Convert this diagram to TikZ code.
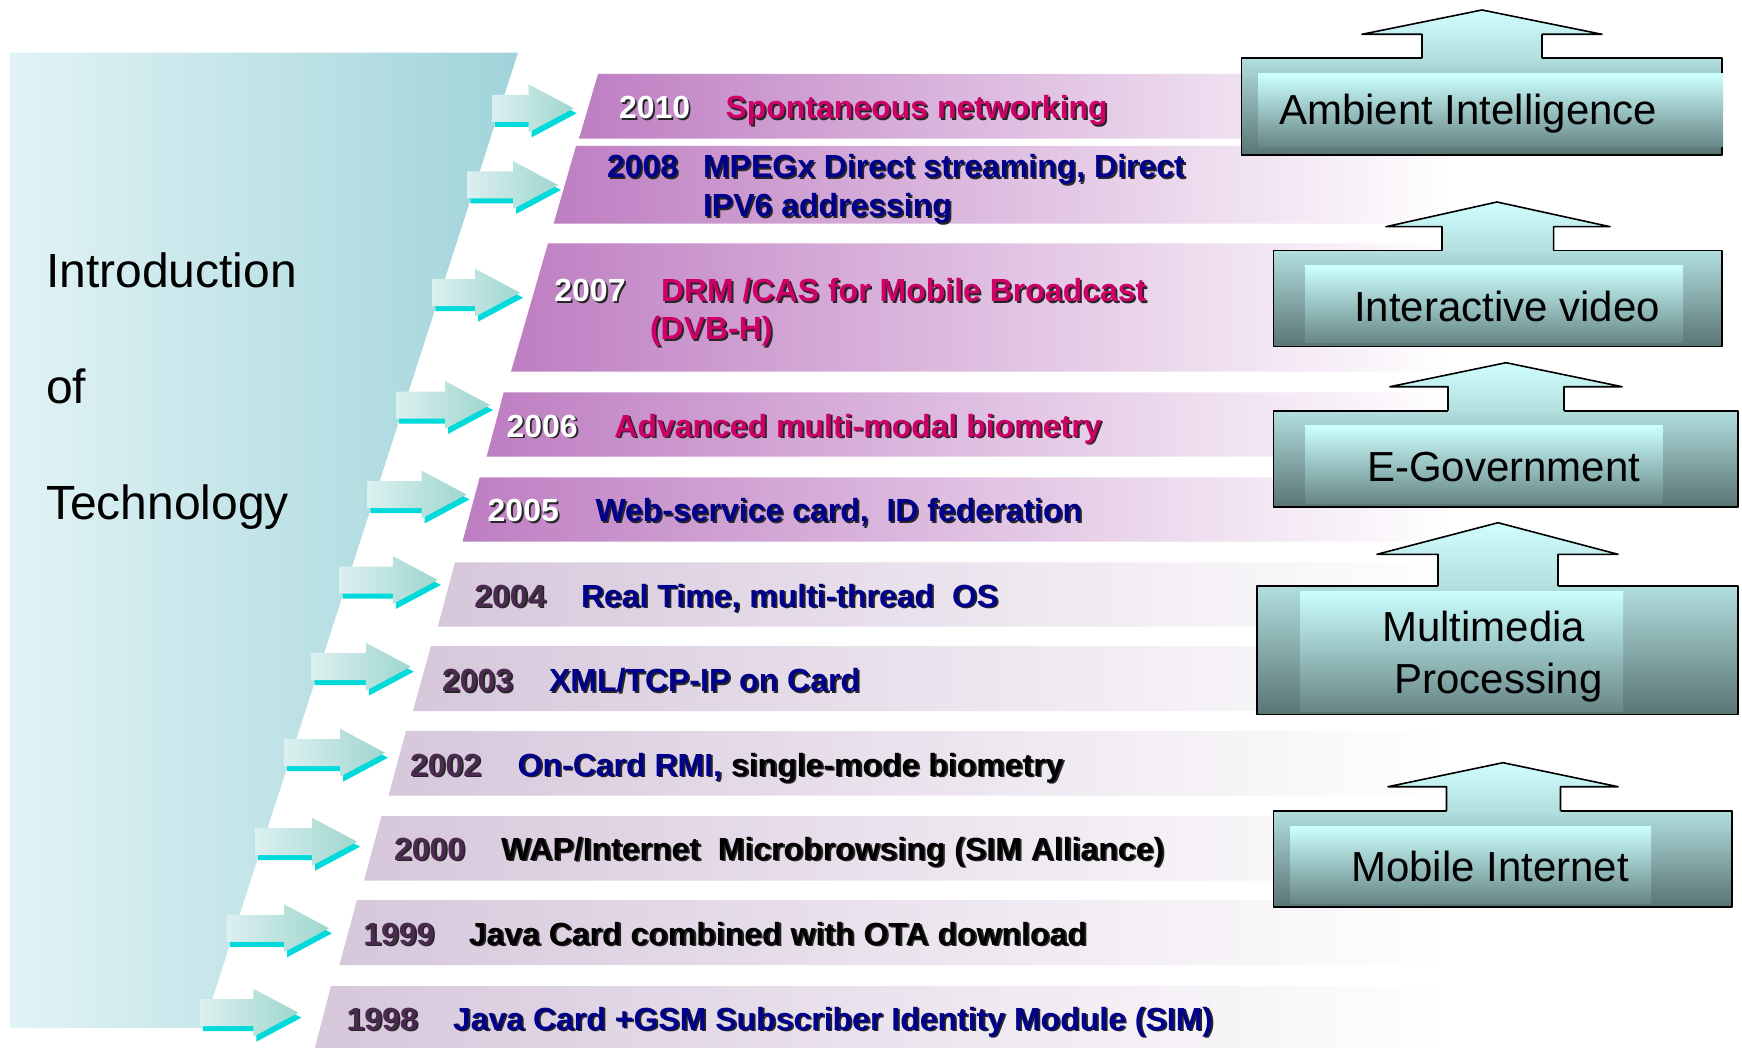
\documentclass[tikz,border=0pt]{standalone}
\usepackage{fontspec}
\setmainfont{Liberation Sans}
\definecolor{mag}{RGB}{204,0,102}
\definecolor{tnavy}{RGB}{0,0,140}
\definecolor{yearpurple}{RGB}{75,42,80}
\definecolor{barP}{RGB}{190,126,194}
\definecolor{barL}{RGB}{214,199,219}
\definecolor{trapL}{RGB}{226,243,245}
\definecolor{trapR}{RGB}{160,212,218}
\definecolor{arrL}{RGB}{220,240,240}
\definecolor{arrR}{RGB}{158,214,206}
\definecolor{arrSh}{RGB}{0,218,218}
\definecolor{boxT}{RGB}{178,222,222}
\definecolor{boxB}{RGB}{90,116,116}
\definecolor{inT}{RGB}{204,255,255}
\definecolor{inB}{RGB}{104,134,134}
\definecolor{upT}{RGB}{208,253,253}
\tikzset{
  rowtxt/.style={anchor=base west, inner sep=0pt, outer sep=0pt, font=\fontsize{32}{38}\selectfont\bfseries},
  boxtxt/.style={anchor=base west, inner sep=0pt, outer sep=0pt, font=\fontsize{42}{50}\selectfont, text=black},
  bigtxt/.style={anchor=base west, inner sep=0pt, outer sep=0pt, font=\fontsize{48}{56}\selectfont, text=black},
  outline/.style={draw=black, line width=1.6pt, line join=round},
}
\newcommand{\cc}[2]{\textcolor{#1}{#2}}
\newcommand{\ccoff}[2]{#2}
% row bar: color, top, bottom, x at top, x at bottom
\newcommand{\rowbar}[5]{\path[left color=#1, right color=white] (#4,#2) -- (1450,#2) -- (1450,#3) -- (#5,#3) -- cycle;}
% text with drop shadow: name, x, baseline y, colour, text
\newcommand{\stxt}[5]{\node[rowtxt,text=black!85] (#1s) at (#2+1.8,#3+1.8) {\let\cc\ccoff #5};\node[rowtxt,text=#4] (#1) at (#2,#3) {#5};}
% left block arrow: tip x, tip y
\newcommand{\larrow}[2]{%
  \pgfmathsetmacro\xs{518-0.323*(#2-52.7)-8}%
  \pgfmathsetmacro\hx{#1-45}%
  \fill[arrSh, shift={(3,5)}] (\xs,#2-13.5) -- (\hx,#2-13.5) -- (\hx,#2-24) -- (#1,#2) -- (\hx,#2+24) -- (\hx,#2+13.5) -- (\xs,#2+13.5) -- cycle;
  \path[left color=arrL, right color=arrR] (\xs,#2-13.5) -- (\hx,#2-13.5) -- (\hx,#2-24) -- (#1,#2) -- (\hx,#2+24) -- (\hx,#2+13.5) -- (\xs,#2+13.5) -- cycle;}
% right box: outer x1 y1 x2 y2, inner x1 y1 x2 y2
\newcommand{\tbox}[8]{%
  \path[top color=boxT, bottom color=boxB, outline] (#1,#2) rectangle (#3,#4);
  \path[top color=inT, bottom color=inB] (#5,#6) rectangle (#7,#8);}
% up arrow: tip x, tip y, head base y, head left, head right, shaft left, shaft right, box top
\newcommand{\uparr}[8]{%
  \path[top color=upT, bottom color=boxT] (#6,#8+1.5) -- (#6,#3) -- (#4,#3) -- (#1,#2) -- (#5,#3) -- (#7,#3) -- (#7,#8+1.5) -- cycle;
  \draw[outline] (#6,#8) -- (#6,#3) -- (#4,#3) -- (#1,#2) -- (#5,#3) -- (#7,#3) -- (#7,#8);}
\begin{document}
\begin{tikzpicture}[x=1pt,y=-1pt]
\useasboundingbox (0,0) rectangle (1742,1048);
\fill[white] (0,0) rectangle (1742,1048);

% timeline bars
\rowbar{barP}{74}{138.7}{598}{579}
\rowbar{barP}{146}{223.7}{576}{553.6}
\rowbar{barP}{243.3}{371.7}{548}{511}
\rowbar{barP}{392.3}{456.7}{503.8}{486.6}
\rowbar{barP}{477.3}{541.7}{479.7}{462.5}
\rowbar{barL}{562.3}{626.7}{455}{437.8}
\rowbar{barL}{646}{711}{430.9}{413}
\rowbar{barL}{731}{795.7}{406}{388.5}
\rowbar{barL}{816}{880.7}{381.5}{364}
\rowbar{barL}{900}{965}{357}{339.4}
\rowbar{barL}{986}{1048}{331}{314.9}

% left panel
\path[left color=trapL, right color=trapR] (10,52.7) -- (518,52.7) -- (203,1028) -- (10,1028) -- cycle;
\node[bigtxt] (intro) at (46,288) {Introduction};
\node[bigtxt] (of) at (46,403) {of};
\node[bigtxt] (tech) at (46,519) {Technology};

% block arrows
\larrow{573.7}{108.3}
\larrow{558}{185}
\larrow{520}{292.7}
\larrow{490}{405}
\larrow{466.5}{494.5}
\larrow{437.8}{580}
\larrow{410.8}{666.7}
\larrow{385}{752.7}
\larrow{357}{841.7}
\larrow{329}{928.3}
\larrow{298.3}{1012.7}

% row texts
\stxt{y2010}{619}{119}{white}{2010}
\stxt{t2010}{725.5}{119}{mag}{Spontaneous networking}
\stxt{y2008}{607}{178}{tnavy}{2008}
\stxt{t2008a}{703}{178}{tnavy}{MPEGx Direct streaming, Direct}
\stxt{t2008b}{703}{217}{tnavy}{IPV6 addressing}
\stxt{y2007}{554.4}{301.5}{white}{2007}
\stxt{t2007a}{661}{301.5}{mag}{DRM /CAS for Mobile Broadcast}
\stxt{t2007b}{650}{340}{mag}{(DVB-H)}
\stxt{y2006}{506.6}{437}{white}{2006}
\stxt{t2006}{614.4}{437}{mag}{Advanced multi-modal biometry}
\stxt{y2005}{487.7}{521.5}{white}{2005}
\stxt{t2005}{595.5}{521.5}{tnavy}{Web-service card,\ \ ID federation}
\stxt{y2004}{474.4}{607}{yearpurple}{2004}
\stxt{t2004}{581}{607}{tnavy}{Real Time, multi-thread\ \ OS}
\stxt{y2003}{442}{691.5}{yearpurple}{2003}
\stxt{t2003}{549}{691.5}{tnavy}{XML/TCP-IP on Card}
\stxt{y2002}{410}{776}{yearpurple}{2002}
\stxt{t2002}{517.7}{776}{black}{\cc{tnavy}{On-Card RMI,} single-mode biometry}
\stxt{y2000}{394}{860}{yearpurple}{2000}
\stxt{t2000}{501}{860}{black}{WAP/Internet\ \ Microbrowsing (SIM Alliance)}
\stxt{y1999}{363.3}{945}{yearpurple}{1999}
\stxt{t1999}{468.8}{945}{black}{Java Card combined with OTA download}
\stxt{y1998}{346.6}{1030}{yearpurple}{1998}
\stxt{t1998}{453}{1030}{tnavy}{Java Card +GSM Subscriber Identity Module (SIM)}

% right boxes
\tbox{1241.5}{58.3}{1722}{155}{1258}{74}{1723}{147}
\uparr{1482}{10}{34.3}{1362}{1602}{1422}{1542}{58.3}
\node[boxtxt] (ambient) at (1279,125) {Ambient Intelligence};

\tbox{1273.6}{250.7}{1722}{346.7}{1305}{266}{1683}{343}
\uparr{1497}{202}{226.7}{1386}{1610}{1442}{1553.6}{250.7}
\node[boxtxt] (video) at (1354,321.7) {Interactive video};

\tbox{1273.6}{410.7}{1738}{506.7}{1305}{425.7}{1662.5}{503}
\uparr{1506}{362.7}{386.7}{1390}{1622}{1448}{1564}{410.7}
\node[boxtxt] (egov) at (1367,481.7) {E-Government};

\tbox{1257}{586}{1738}{714.3}{1300}{591}{1623}{711}
\uparr{1498}{522.7}{554.3}{1377}{1618}{1438}{1558}{586}
\node[boxtxt] (mm1) at (1382,641.7) {Multimedia};
\node[boxtxt] (mm2) at (1394.6,693.3) {Processing};

\tbox{1273.6}{810.7}{1732}{906.7}{1290}{826}{1651}{903}
\uparr{1503}{762.7}{786.7}{1388}{1618}{1446.5}{1560.5}{810.7}
\node[boxtxt] (mobile) at (1351,881.7) {Mobile Internet};
\end{tikzpicture}
\end{document}
